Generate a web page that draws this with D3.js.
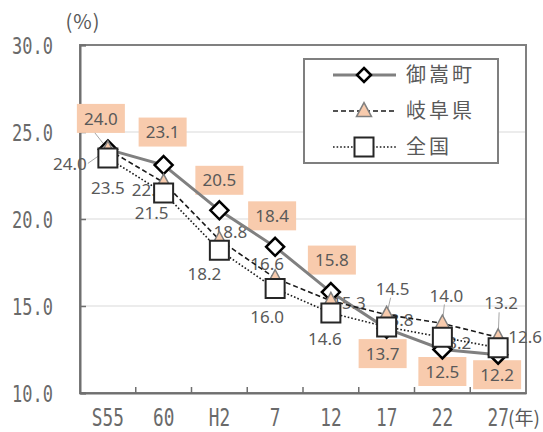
<!DOCTYPE html>
<html>
<head>
<meta charset="utf-8">
<script src="https://cdn.jsdelivr.net/npm/d3@7"></script>
<style>
  html, body { margin: 0; padding: 0; background: #fff; }
  svg { display: block; }
</style>
</head>
<body>
<svg id="chart" width="543" height="432"></svg>
<script>
// Census years (Showa 55 through Heisei 27)
const years = ["S55", "60", "H2", "7", "12", "17", "22", "27"];
const yTicks = [10, 15, 20, 25, 30];

// Share of population under 15 (%)
const mitake = [24.0, 23.1, 20.5, 18.4, 15.8, 13.7, 12.5, 12.2];   // 御嵩町
const gifu   = [24.0, 22.1, 18.8, 16.6, 15.3, 14.5, 14.0, 13.2];   // 岐阜県
const zenkoku = [23.5, 21.5, 18.2, 16.0, 14.6, 13.8, 13.2, 12.6];  // 全国

const seriesNames = ["御嵩町", "岐阜県", "全国"];

// Label placement relative to each point (dx, dy of the label centre)
const labelOffsets = {
  mitake:  [[-7,-31],[-1,-33],[0,-30],[-3,-31],[1,-32],[-4,25],[0,22],[-1,20]],
  gifu:    [[-38,14],[-15,7],[11,-8],[-8,-14],[18,2],[6,-26],[4,-28],[3,-34]],
  zenkoku: [[0,30],[-12,20],[-15,24],[-8,28],[-6,26],[10,-7],[12,6],[27,-11]]
};

const svg = d3.select("#chart");
const plot = { left: 80, right: 526, top: 45, bottom: 393 };
const textGray = "#595959";
const numFont = "'DejaVu Sans Mono', monospace";
const labelFont = "'Noto Sans', 'Liberation Sans', sans-serif";
const cjkFont = "'Noto Sans CJK JP', sans-serif";

const x = d3.scaleBand().domain(years).range([plot.left, plot.right]);
const y = d3.scaleLinear().domain([10, 30]).range([plot.bottom, plot.top]);
const cx = d => x(d) + x.bandwidth() / 2;

// Gridlines
svg.append("g")
  .selectAll("line")
  .data(yTicks.filter(t => t > 10 && t < 30))
  .join("line")
  .attr("x1", plot.left).attr("x2", plot.right)
  .attr("y1", d => y(d)).attr("y2", d => y(d))
  .attr("stroke", "#d9d9d9").attr("stroke-width", 1.2);

// Plot frame
svg.append("rect")
  .attr("x", plot.left).attr("y", plot.top)
  .attr("width", plot.right - plot.left).attr("height", plot.bottom - plot.top)
  .attr("fill", "none").attr("stroke", "#808080").attr("stroke-width", 2);

// Y axis
const yAxis = svg.append("g")
  .attr("transform", `translate(${plot.left},0)`)
  .call(d3.axisLeft(y).tickValues(yTicks).tickFormat(d3.format(".1f")).tickSize(-6).tickPadding(0));
yAxis.select(".domain").attr("stroke", "#6f6f6f").attr("stroke-width", 2);
yAxis.selectAll(".tick line").attr("stroke", "#6f6f6f").attr("stroke-width", 1.5);
yAxis.selectAll(".tick text")
  .attr("x", 0).attr("dy", null)
  .attr("transform", "translate(-27,8) scale(0.74,1)")
  .attr("text-anchor", "end")
  .attr("font-family", numFont).attr("font-size", 23)
  .attr("fill", "#6a6a6a");

// X axis
const xAxis = svg.append("g")
  .attr("transform", `translate(0,${plot.bottom})`)
  .call(d3.axisBottom(x).tickSize(0).tickPadding(0));
xAxis.select(".domain").attr("stroke", "#6f6f6f").attr("stroke-width", 2);
xAxis.selectAll(".tick text")
  .attr("y", 0).attr("dy", null)
  .attr("transform", "translate(0,33) scale(0.74,1)")
  .attr("text-anchor", "middle")
  .attr("font-family", numFont).attr("font-size", 24)
  .attr("fill", "#6a6a6a");

// Category boundary ticks
svg.append("g")
  .selectAll("line")
  .data(years.slice(1))
  .join("line")
  .attr("x1", d => x(d)).attr("x2", d => x(d))
  .attr("y1", plot.bottom).attr("y2", plot.bottom - 6)
  .attr("stroke", "#6f6f6f").attr("stroke-width", 1.5);

// Unit labels
svg.append("text")
  .attr("x", 83).attr("y", 29)
  .attr("text-anchor", "middle")
  .attr("font-family", cjkFont).attr("font-size", 20)
  .attr("letter-spacing", 1)
  .attr("fill", textGray)
  .text("(%)");
svg.append("text")
  .attr("x", 508).attr("y", 425)
  .attr("font-family", cjkFont).attr("font-size", 19)
  .attr("fill", textGray)
  .text("(年)");

// Marker shapes
const diamondPath = r => `M0,${-r}L${r},0L0,${r}L${-r},0Z`;
const trianglePath = (w, h) => `M0,${-h * 0.6}L${w / 2},${h * 0.4}L${-w / 2},${h * 0.4}Z`;
const squarePath = s => `M${-s / 2},${-s / 2}h${s}v${s}h${-s}Z`;

const series = [
  { key: "mitake", name: seriesNames[0], values: mitake,
    stroke: "#808080", width: 3, dash: null,
    marker: diamondPath(9), mFill: "#fff", mStroke: "#000", mWidth: 2.5 },
  { key: "gifu", name: seriesNames[1], values: gifu,
    stroke: "#1a1a1a", width: 1.6, dash: "5,3",
    marker: trianglePath(15, 14), mFill: "#F8CBAD", mStroke: "#7f7f7f", mWidth: 1.5 },
  { key: "zenkoku", name: seriesNames[2], values: zenkoku,
    stroke: "#1a1a1a", width: 1.6, dash: "1.6,2",
    marker: squarePath(19), mFill: "#fff", mStroke: "#262626", mWidth: 2 }
];

// Data labels (drawn beneath the lines and markers)
const labelLayer = svg.append("g");
const leaderLayer = svg.append("g");
series.forEach(s => {
  const offs = labelOffsets[s.key];
  s.values.forEach((v, i) => {
    const px = cx(years[i]), py = y(v);
    const lx = px + offs[i][0], ly = py + offs[i][1];
    if (s.key === "mitake") {
      labelLayer.append("rect")
        .attr("x", lx - 24).attr("y", ly - 14.5)
        .attr("width", 48).attr("height", 29)
        .attr("fill", "#F8CBAD");
    }
    labelLayer.append("text")
      .attr("x", lx).attr("y", ly)
      .attr("dy", "0.36em")
      .attr("text-anchor", "middle")
      .attr("font-family", labelFont).attr("font-size", 17)
      .attr("fill", textGray)
      .text(d3.format(".1f")(v));
  });
});

// Leader lines from a few detached labels back to their points
const leaders = [
  { key: "mitake", i: 0, from: [-6, 14.5] },
  { key: "gifu", i: 0, from: [18, 0] },
  { key: "gifu", i: 5, from: [-2, 9] },
  { key: "gifu", i: 6, from: [-2, 9] },
  { key: "gifu", i: 7, from: [-2, 9] }
];
leaders.forEach(l => {
  const s = series.find(d => d.key === l.key);
  const v = s.values[l.i];
  const px = cx(years[l.i]), py = y(v);
  const off = labelOffsets[l.key][l.i];
  const sx = px + off[0] + l.from[0], sy = py + off[1] + l.from[1];
  const ex = px + (sx - px) * 0.35, ey = py + (sy - py) * 0.35;
  leaderLayer.append("line")
    .attr("x1", sx).attr("y1", sy).attr("x2", ex).attr("y2", ey)
    .attr("stroke", "#a6a6a6").attr("stroke-width", 1);
});

// Lines and markers
const line = d3.line().x((d, i) => cx(years[i])).y(d => y(d));
series.forEach(s => {
  svg.append("path")
    .datum(s.values)
    .attr("d", line)
    .attr("fill", "none")
    .attr("stroke", s.stroke)
    .attr("stroke-width", s.width)
    .attr("stroke-dasharray", s.dash);
});
series.forEach(s => {
  svg.append("g")
    .selectAll("path")
    .data(s.values)
    .join("path")
    .attr("transform", (d, i) => `translate(${cx(years[i])},${y(d)})`)
    .attr("d", s.marker)
    .attr("fill", s.mFill)
    .attr("stroke", s.mStroke)
    .attr("stroke-width", s.mWidth)
    .attr("stroke-linejoin", "miter");
});

// Legend
const legend = svg.append("g");
legend.append("rect")
  .attr("x", 304).attr("y", 59)
  .attr("width", 194).attr("height", 104)
  .attr("fill", "#fff")
  .attr("stroke", "#7f7f7f").attr("stroke-width", 2);
series.forEach((s, k) => {
  const ly = 75 + k * 36;
  legend.append("line")
    .attr("x1", 333).attr("x2", 396)
    .attr("y1", ly).attr("y2", ly)
    .attr("stroke", s.stroke)
    .attr("stroke-width", s.width)
    .attr("stroke-dasharray", s.dash);
  legend.append("path")
    .attr("transform", `translate(364,${ly})`)
    .attr("d", k === 0 ? diamondPath(7) : s.marker)
    .attr("fill", s.mFill)
    .attr("stroke", s.mStroke)
    .attr("stroke-width", s.mWidth);
  legend.append("text")
    .attr("x", 406).attr("y", ly)
    .attr("dy", "0.36em")
    .attr("font-family", cjkFont).attr("font-size", 20)
    .attr("letter-spacing", 3)
    .attr("fill", textGray)
    .text(s.name);
});
</script>
</body>
</html>
